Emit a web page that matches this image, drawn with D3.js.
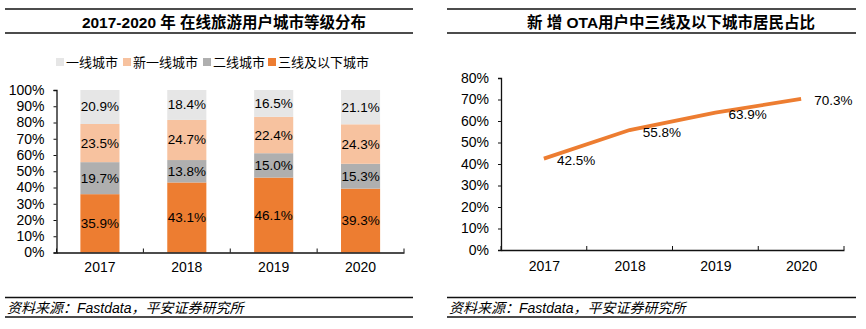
<!DOCTYPE html>
<html>
<head>
<meta charset="utf-8">
<script src="https://cdn.jsdelivr.net/npm/d3@7"></script>
<style>
  body { margin: 0; background: #fff; }
  svg text { font-family: "Liberation Sans", Arial, "Noto Sans CJK SC", sans-serif; fill: #000; }
</style>
</head>
<body>
<div id="chart"></div>
<script>
// data
let years = ["2017", "2018", "2019", "2020"];
let seriesNames = ["三线及以下城市", "二线城市", "新一线城市", "一线城市"];
let legendOrder = ["一线城市", "新一线城市", "二线城市", "三线及以下城市"];
let tier3 = [35.9, 43.1, 46.1, 39.3];
let tier2 = [19.7, 13.8, 15.0, 15.3];
let newTier1 = [23.5, 24.7, 22.4, 24.3];
let tier1 = [20.9, 18.4, 16.5, 21.1];
let lowTierShare = [42.5, 55.8, 63.9, 70.3];
let leftTicks = [0, 10, 20, 30, 40, 50, 60, 70, 80, 90, 100];
let rightTicks = [0, 10, 20, 30, 40, 50, 60, 70, 80];

let colors = {
  "三线及以下城市": "#ED7D31",
  "二线城市": "#AFAFAF",
  "新一线城市": "#F7C29F",
  "一线城市": "#E6E6E6"
};

let svg = d3.select("#chart").append("svg")
  .attr("width", 866)
  .attr("height", 329);

// panel frames: title rules and footer rules
function frame(x0, x1, cx, title) {
  [9, 33, 297.5, 317].forEach(y => {
    svg.append("line")
      .attr("x1", x0).attr("x2", x1)
      .attr("y1", y).attr("y2", y)
      .attr("stroke", "#111").attr("stroke-width", 1.5);
  });
  svg.append("text")
    .attr("x", cx).attr("y", 22)
    .attr("text-anchor", "middle")
    .attr("dominant-baseline", "central")
    .style("font-size", "15.5px")
    .style("font-weight", "bold")
    .text(title);
  svg.append("text")
    .attr("x", x0 + 2).attr("y", 308)
    .attr("dominant-baseline", "central")
    .style("font-size", "14px")
    .style("font-style", "italic")
    .text("资料来源：Fastdata，平安证券研究所");
}
frame(5, 413, 224, "2017-2020 年 在线旅游用户城市等级分布");
frame(447, 856, 671, "新 增 OTA用户中三线及以下城市居民占比");

// ---------- left: stacked bars ----------
let rows = years.map((y, i) => ({
  year: y,
  "三线及以下城市": tier3[i],
  "二线城市": tier2[i],
  "新一线城市": newTier1[i],
  "一线城市": tier1[i]
}));

let xL = d3.scaleBand().domain(years).range([56.5, 404])
  .paddingInner(0.55).paddingOuter(0.275);
let yL = d3.scaleLinear().domain([0, 100]).range([252.5, 90]);

let stack = d3.stack().keys(seriesNames)(rows);

let layer = svg.append("g").selectAll("g")
  .data(stack)
  .enter().append("g")
  .attr("fill", d => colors[d.key]);

layer.selectAll("rect")
  .data(d => d)
  .enter().append("rect")
  .attr("x", d => xL(d.data.year))
  .attr("y", d => yL(d[1]))
  .attr("width", xL.bandwidth())
  .attr("height", d => yL(d[0]) - yL(d[1]));

layer.selectAll("text")
  .data(d => d)
  .enter().append("text")
  .attr("x", d => xL(d.data.year) + xL.bandwidth() / 2)
  .attr("y", d => yL((d[0] + d[1]) / 2))
  .attr("text-anchor", "middle")
  .attr("dominant-baseline", "central")
  .style("font-size", "13.5px")
  .text(d => (d[1] - d[0]).toFixed(1) + "%");

// y axis
svg.append("g")
  .attr("transform", "translate(56.5,0)")
  .call(d3.axisLeft(yL).tickValues(leftTicks).tickFormat(d => d + "%").tickSize(3).tickPadding(9));
// x axis
svg.append("g")
  .attr("transform", "translate(0,252.5)")
  .call(d3.axisBottom(xL).tickSize(0).tickPadding(10));
let boundsL = xL.domain().map(d => xL(d) - xL.step() * xL.paddingInner() / 2).concat([404]);
svg.append("g").selectAll("line")
  .data(boundsL)
  .enter().append("line")
  .attr("x1", d => d).attr("x2", d => d)
  .attr("y1", 252.5).attr("y2", 248.5)
  .attr("stroke", "#111");

// legend
let legendX = [56, 123, 203, 268];
let legend = svg.append("g").selectAll("g")
  .data(legendOrder)
  .enter().append("g")
  .attr("transform", (d, i) => "translate(" + legendX[i] + ",62)");
legend.append("rect")
  .attr("x", 0).attr("y", -4)
  .attr("width", 8).attr("height", 8)
  .attr("fill", d => colors[d]);
legend.append("text")
  .attr("x", 10).attr("y", 0)
  .attr("dominant-baseline", "central")
  .style("font-size", "13px")
  .text(d => d);

// ---------- right: line ----------
let xR = d3.scalePoint().domain(years).range([501, 844]).padding(0.5);
let yR = d3.scaleLinear().domain([0, 80]).range([250, 78]);

svg.append("g")
  .attr("transform", "translate(501,0)")
  .call(d3.axisLeft(yR).tickValues(rightTicks).tickFormat(d => d + "%").tickSize(3).tickPadding(9));
svg.append("g")
  .attr("transform", "translate(0,250)")
  .call(d3.axisBottom(xR).tickSize(0).tickPadding(11));
let boundsR = years.map(d => xR(d) - xR.step() / 2).concat([844]);
svg.append("g").selectAll("line")
  .data(boundsR)
  .enter().append("line")
  .attr("x1", d => d).attr("x2", d => d)
  .attr("y1", 250).attr("y2", 246)
  .attr("stroke", "#111");

let line = d3.line()
  .x((d, i) => xR(years[i]))
  .y(d => yR(d));

svg.append("path")
  .datum(lowTierShare)
  .attr("d", line)
  .attr("fill", "none")
  .attr("stroke", "#ED7D31")
  .attr("stroke-width", 3.8);

svg.append("g").selectAll("text")
  .data(lowTierShare)
  .enter().append("text")
  .attr("x", (d, i) => xR(years[i]) + 13)
  .attr("y", d => yR(d) + 2)
  .attr("dominant-baseline", "central")
  .style("font-size", "13.5px")
  .text(d => d.toFixed(1) + "%");

// axis styling
svg.selectAll(".domain").attr("stroke", "#111").attr("stroke-width", 1.3);
svg.selectAll(".tick line").attr("stroke", "#111");
svg.selectAll(".tick text").style("font-size", "14px").attr("fill", "#000");
</script>
</body>
</html>
